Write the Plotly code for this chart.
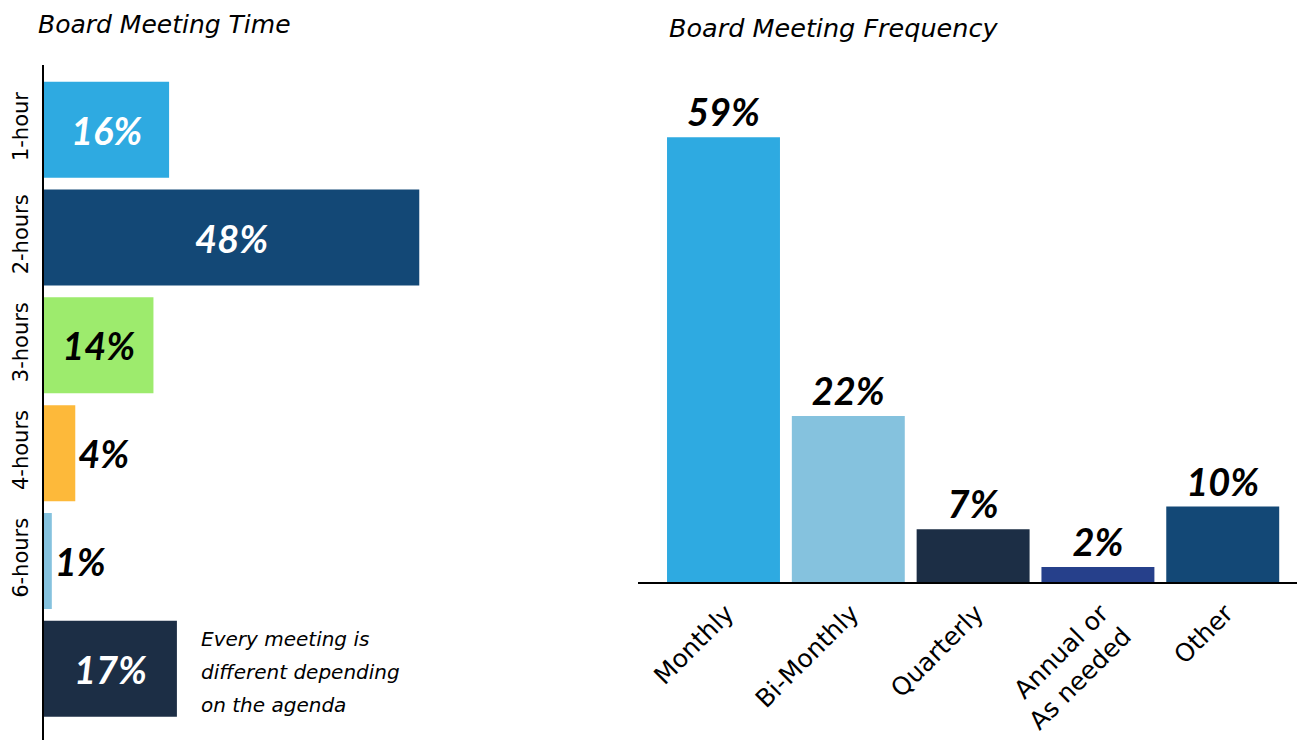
import plotly.graph_objects as go

# Board meeting length (share of respondents, %)
time_keys = ["1-hour", "2-hours", "3-hours", "4-hours", "6-hours", "varies"]
time_ticks = ["1-hour", "2-hours", "3-hours", "4-hours", "6-hours", ""]
time_values = [16, 48, 14, 4, 1, 17]
time_colors = ["#2EAAE1", "#134876", "#9DEB6D", "#FDB93A", "#85C2DE", "#1C2E45"]
time_text_colors = ["white", "white", "black", "black", "black", "white"]
time_text_pos = ["inside", "inside", "inside", "outside", "outside", "inside"]

# Board meeting frequency (share of respondents, %)
freq_keys = ["Monthly", "Bi-Monthly", "Quarterly", "Annual or<br>As needed", "Other"]
freq_values = [59, 22, 7, 2, 10]
freq_colors = ["#2EAAE1", "#85C2DE", "#1C2E45", "#26408B", "#134876"]

# Note printed beside the "varies" bar, one entry per line
note_lines = ["Every meeting is", "different depending", "on the agenda"]

LABEL_FONT = "Lato"
TEXT_FONT = "DejaVu Sans"
W, H = 1297, 740

fig = go.Figure()

fig.add_trace(go.Bar(
    y=time_keys, x=time_values, orientation="h",
    marker=dict(color=time_colors, line=dict(width=0)),
    text=[f"<b><i>{v}%</i></b>" for v in time_values],
    textposition=time_text_pos,
    insidetextanchor="middle",
    textfont=dict(family=LABEL_FONT, size=38, color=time_text_colors),
    constraintext="none", cliponaxis=False,
    xaxis="x", yaxis="y", showlegend=False, hoverinfo="skip",
))

fig.add_trace(go.Bar(
    x=freq_keys, y=freq_values,
    marker=dict(color=freq_colors, line=dict(width=0)),
    text=[f"<b><i>{v}%</i></b>" for v in freq_values],
    textposition="outside",
    textfont=dict(family=LABEL_FONT, size=38, color="black"),
    constraintext="none", cliponaxis=False,
    xaxis="x2", yaxis="y2", showlegend=False, hoverinfo="skip",
))

fig.update_layout(
    width=W, height=H,
    margin=dict(l=0, r=0, t=0, b=0),
    paper_bgcolor="white", plot_bgcolor="white",
    font=dict(family=TEXT_FONT, color="black"),
    bargap=0.11,
    xaxis=dict(domain=[44 / W, 474 / W], range=[0, 55], visible=False,
               anchor="y", fixedrange=True),
    yaxis=dict(domain=[0, (H - 65) / H], type="category",
               categoryorder="array", categoryarray=time_keys,
               tickvals=time_keys, ticktext=time_ticks,
               range=[5.66, -0.6], tickangle=-90,
               tickfont=dict(family=TEXT_FONT, size=21, color="black"),
               showline=True, linecolor="black", linewidth=1.5,
               showgrid=False, zeroline=False, ticks="", ticklabelstandoff=6,
               anchor="x"),
    xaxis2=dict(domain=[638 / W, 1], type="category",
                categoryorder="array", categoryarray=freq_keys,
                ticktext=freq_keys, tickvals=freq_keys,
                range=[-0.685, 4.595], tickangle=-45,
                tickfont=dict(family=TEXT_FONT, size=25, color="black"),
                showline=True, linecolor="black", linewidth=1.5,
                showgrid=False, zeroline=False, ticks="",
                ticklabelstandoff=5, ticklabelshift=3, anchor="y2"),
    yaxis2=dict(domain=[(H - 582) / H, (H - 90) / H], range=[0, 492 / 7.54],
                visible=False, anchor="x2", fixedrange=True),
)

fig.update_traces(selector=dict(xaxis="x2"), width=0.905)

# Panel titles
fig.add_annotation(text="<i>Board Meeting Time</i>", xref="paper", yref="paper",
                   x=36 / W, y=1 - 24 / H, xanchor="left", yanchor="middle",
                   showarrow=False, font=dict(family=TEXT_FONT, size=25, color="black"))
fig.add_annotation(text="<i>Board Meeting Frequency</i>", xref="paper", yref="paper",
                   x=667 / W, y=1 - 28 / H, xanchor="left", yanchor="middle",
                   showarrow=False, font=dict(family=TEXT_FONT, size=25.5, color="black"))

# Note beside the "varies" bar, spaced as three separate lines
for i, line in enumerate(note_lines):
    fig.add_annotation(text=f"<i>{line}</i>", xref="paper", yref="paper",
                       x=199 / W, y=(H - (639 + 33 * i)) / H,
                       xanchor="left", yanchor="middle", align="left", showarrow=False,
                       font=dict(family=TEXT_FONT, size=20, color="black"))

fig.write_html("out.html")
